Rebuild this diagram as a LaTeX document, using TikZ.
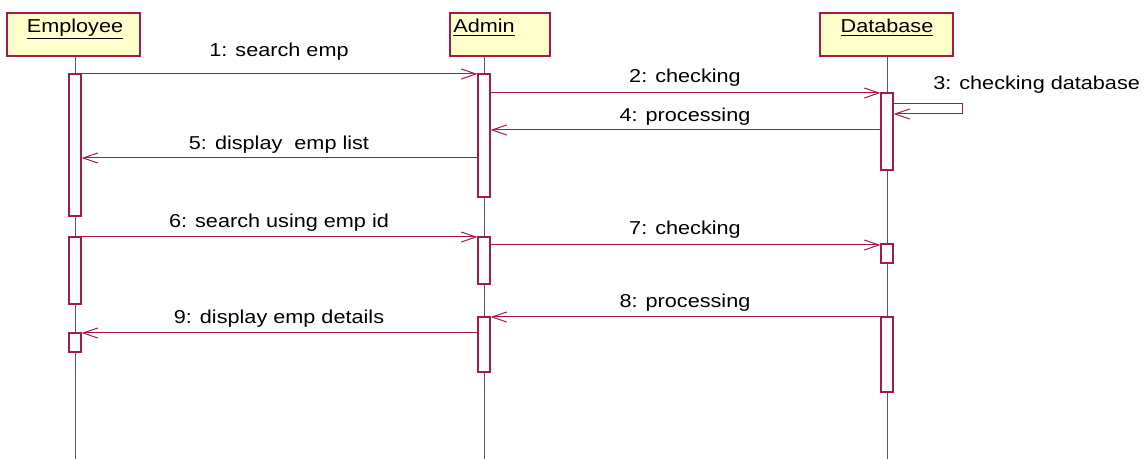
\documentclass[tikz,border=0pt]{standalone}
\usepackage{fontspec}
\setmainfont{Liberation Sans}[FakeStretch=1.16]
\usetikzlibrary{arrows.meta,fit}
\definecolor{umlred}{RGB}{165,25,75}
\definecolor{headfill}{RGB}{255,255,204}
\definecolor{lifegray}{RGB}{90,90,90}
\tikzset{
  headbox/.style={draw=umlred, fill=headfill, line width=1.1pt, inner sep=0pt},
  headtext/.style={anchor=base, inner sep=0pt, font=\fontsize{14pt}{16pt}\selectfont},
  bar/.style={draw=umlred, fill=white, line width=0.8pt, inner sep=0pt},
  life/.style={draw=lifegray, line width=0.75pt},
  msg/.style={draw=umlred, line width=0.75pt, -{Straight Barb[length=11pt,width=7.5pt]}},
  msgtext/.style={anchor=base, inner sep=0pt, font=\fontsize{14pt}{16pt}\selectfont}
}
\begin{document}
\begin{tikzpicture}[x=0.75pt,y=-0.75pt]
\useasboundingbox (0,0) rectangle (1146,459);
% heads
\node[headbox, fit={(7,13)(140,56)}] (emp) {};
\node[headbox, fit={(450,13)(550,56)}] (adm) {};
\node[headbox, fit={(820,13)(953,56)}] (db) {};
\node[headtext] (empt) at (75,33) {\underline{Employee}};
\node[headtext] (admt) at (484,33) {\underline{Admin}};
\node[headtext] (dbt) at (887,33) {\underline{Database}};
% lifeline ends
\coordinate (empend) at (75,459);
\coordinate (admend) at (484,459);
\coordinate (dbend) at (887,459);
\draw[life] (emp.south -| empend) -- (empend);
\draw[life] (adm.south -| admend) -- (admend);
\draw[life] (db.south -| dbend) -- (dbend);
% activation bars
\node[bar, fit={(69,74)(81,216)}] (e1) {};
\node[bar, fit={(69,237)(81,304)}] (e2) {};
\node[bar, fit={(69,333)(81,352)}] (e3) {};
\node[bar, fit={(478,74)(490,197)}] (a1) {};
\node[bar, fit={(478,237)(490,284)}] (a2) {};
\node[bar, fit={(478,317)(490,372)}] (a3) {};
\node[bar, fit={(881,93)(893,170)}] (d1) {};
\node[bar, fit={(881,244)(893,263)}] (d2) {};
\node[bar, fit={(881,317)(893,392)}] (d3) {};
% messages
\draw[msg] (e1.east |- 0,74) -- (a1.west |- 0,74);
\node[msgtext] (m1) at (279,57) {1: search emp};
\draw[msg] (a1.east |- 0,93) -- (d1.west |- 0,93);
\node[msgtext] (m2) at (685,83) {2: checking};
\draw[msg] (d1.east |- 0,104) -- (962,104) -- (962,114) -- (d1.east |- 0,114);
\node[msgtext, anchor=base west] (m3) at (933,90) {3: checking database};
\draw[msg] (d1.west |- 0,130) -- (a1.east |- 0,130);
\node[msgtext] (m4) at (685,122) {4: processing};
\draw[msg] (a1.west |- 0,158) -- (e1.east |- 0,158);
\node[msgtext] (m5) at (279,150) {5: display\ \ emp list};
\draw[msg] (e2.east |- 0,237) -- (a2.west |- 0,237);
\node[msgtext] (m6) at (279,228) {6: search using emp id};
\draw[msg] (a2.east |- 0,245) -- (d2.west |- 0,245);
\node[msgtext] (m7) at (685,235) {7: checking};
\draw[msg] (d3.west |- 0,317) -- (a3.east |- 0,317);
\node[msgtext] (m8) at (685,308) {8: processing};
\draw[msg] (a3.west |- 0,333) -- (e3.east |- 0,333);
\node[msgtext] (m9) at (279,324) {9: display emp details};
\end{tikzpicture}
\end{document}
